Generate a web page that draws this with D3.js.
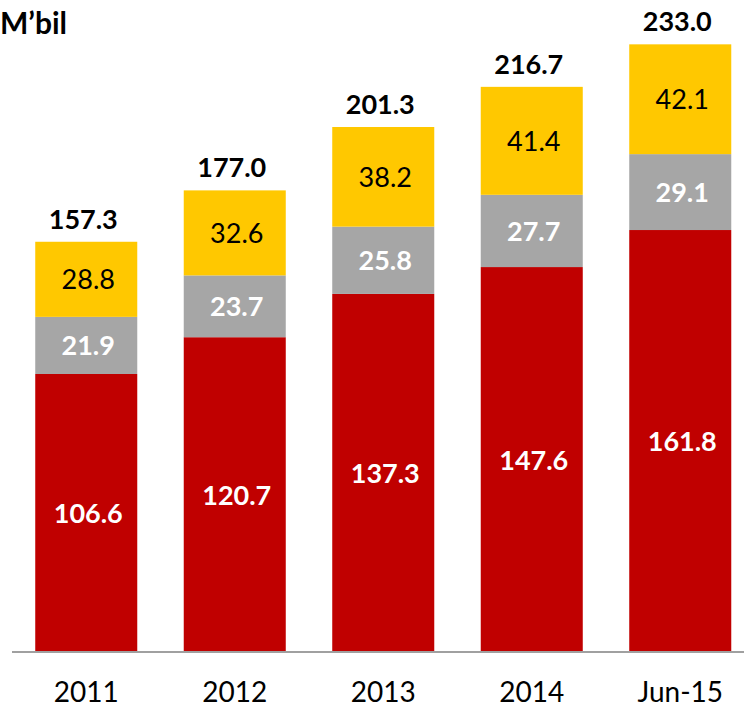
<!DOCTYPE html>
<html>
<head>
<meta charset="utf-8">
<script src="https://cdn.jsdelivr.net/npm/d3@7"></script>
<style>
  html, body { margin: 0; padding: 0; background: #fff; }
  svg { display: block; }
</style>
</head>
<body>
<svg id="chart" width="744" height="708"></svg>
<script>
// Categories and stacked series (billion)
const categories = ["2011", "2012", "2013", "2014", "Jun-15"];
const seriesBase   = [106.6, 120.7, 137.3, 147.6, 161.8];
const seriesMiddle = [21.9, 23.7, 25.8, 27.7, 29.1];
const seriesTop    = [28.8, 32.6, 38.2, 41.4, 42.1];
const totals       = [157.3, 177.0, 201.3, 216.7, 233.0];
const unitLabel = "M\u2019bil";

const seriesKeys = ["base", "middle", "top"];
const colors = { base: "#C00000", middle: "#A6A6A6", top: "#FFC800" };
const labelStyle = {
  base:   { fill: "#fff", weight: 700 },
  middle: { fill: "#fff", weight: 700 },
  top:    { fill: "#000", weight: 400 }
};

const rows = categories.map((c, i) => ({
  cat: c, base: seriesBase[i], middle: seriesMiddle[i], top: seriesTop[i], total: totals[i]
}));

const svg = d3.select("#chart");
const font = "Lato, 'Open Sans', sans-serif";

const x = d3.scaleBand()
  .domain(categories)
  .range([12, 754.5])
  .paddingInner(0.313)
  .paddingOuter(0.1565);

const y = d3.scaleLinear().domain([0, 250]).range([652, 0]);

const stack = d3.stack().keys(seriesKeys);
const layers = stack(rows);

// Stacked bars
const g = svg.append("g");
layers.forEach(layer => {
  const key = layer.key;
  g.selectAll(null)
    .data(layer)
    .join("rect")
    .attr("x", d => x(d.data.cat))
    .attr("width", x.bandwidth())
    .attr("y", d => y(d[1]))
    .attr("height", d => y(d[0]) - y(d[1]))
    .attr("fill", colors[key]);

  // Segment value labels
  g.selectAll(null)
    .data(layer)
    .join("text")
    .attr("x", d => x(d.data.cat) + x.bandwidth() / 2 + 2)
    .attr("y", d => (y(d[0]) + y(d[1])) / 2 + 10)
    .attr("text-anchor", "middle")
    .attr("font-family", font)
    .attr("font-size", 27)
    .attr("font-weight", labelStyle[key].weight)
    .attr("fill", labelStyle[key].fill)
    .text(d => d.data[key].toFixed(1));
});

// Totals above bars
g.selectAll(null)
  .data(rows)
  .join("text")
  .attr("x", d => x(d.cat) + x.bandwidth() / 2 - 3)
  .attr("y", d => y(d.total) - 13)
  .attr("text-anchor", "middle")
  .attr("font-family", font)
  .attr("font-size", 27)
  .attr("font-weight", 700)
  .attr("fill", "#000")
  .text(d => d.total.toFixed(1));

// Category axis
const axis = svg.append("g")
  .attr("transform", `translate(0,${y(0)})`)
  .call(d3.axisBottom(x).tickSize(0).tickPadding(44));
axis.select(".domain")
  .attr("d", "M12,0H744")
  .attr("stroke", "#A0A0A0")
  .attr("stroke-width", 2);
axis.selectAll(".tick text")
  .attr("font-family", font)
  .attr("font-size", 28)
  .attr("fill", "#000")
  .attr("dy", "0.2em");

// Unit label
svg.append("text")
  .attr("x", 0)
  .attr("y", 34)
  .attr("font-family", font)
  .attr("font-size", 30)
  .attr("font-weight", 700)
  .attr("fill", "#000")
  .text(unitLabel);
</script>
</body>
</html>
